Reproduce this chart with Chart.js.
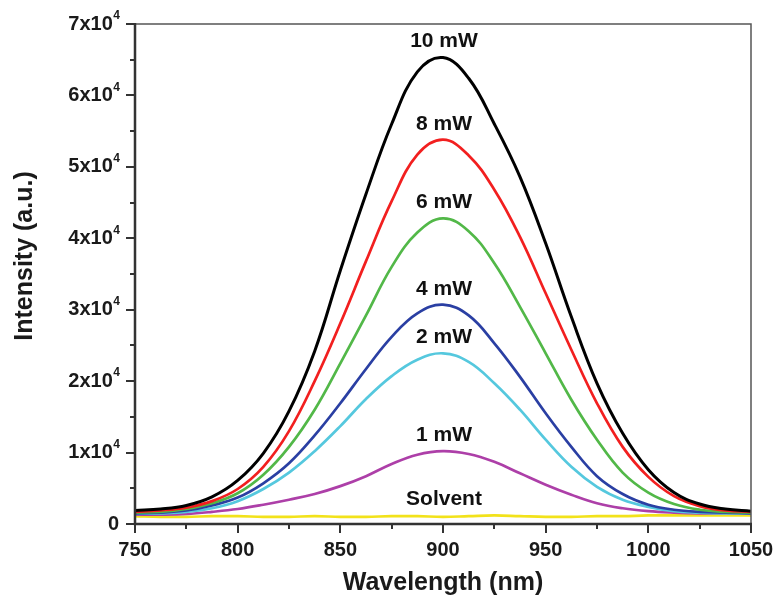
<!DOCTYPE html>
<html>
<head>
<meta charset="utf-8">
<script src="https://cdn.jsdelivr.net/npm/chart.js@4.4.1/dist/chart.umd.min.js"></script>
<style>
html,body{margin:0;padding:0;background:#fff;}
canvas{display:block;}
</style>
</head>
<body>
<canvas id="c" width="775" height="603"></canvas>
<script>
// ---- data (intensity in units of 1e4 a.u.) ----
const wavelengths = [750, 762.5, 775, 787.5, 800, 812.5, 825, 837.5, 850, 862.5, 875, 887.5, 900, 912.5, 925, 937.5, 950, 962.5, 975, 987.5, 1000, 1012.5, 1025, 1037.5, 1050];
const seriesNames = ["10 mW", "8 mW", "6 mW", "4 mW", "2 mW", "1 mW", "Solvent"];
const p10mW = [0.19, 0.21, 0.26, 0.38, 0.61, 0.99, 1.58, 2.42, 3.55, 4.62, 5.60, 6.33, 6.53, 6.24, 5.60, 4.86, 3.93, 2.90, 1.97, 1.27, 0.76, 0.44, 0.28, 0.21, 0.18];
const p8mW  = [0.17, 0.19, 0.23, 0.32, 0.49, 0.80, 1.30, 2.00, 2.81, 3.68, 4.52, 5.17, 5.38, 5.16, 4.68, 4.02, 3.23, 2.44, 1.69, 1.08, 0.66, 0.39, 0.25, 0.19, 0.17];
const p6mW  = [0.16, 0.17, 0.21, 0.29, 0.43, 0.69, 1.08, 1.60, 2.25, 2.92, 3.60, 4.08, 4.28, 4.10, 3.65, 3.04, 2.39, 1.74, 1.18, 0.72, 0.44, 0.28, 0.20, 0.17, 0.16];
const p4mW  = [0.15, 0.16, 0.19, 0.26, 0.37, 0.57, 0.85, 1.24, 1.69, 2.17, 2.62, 2.95, 3.07, 2.92, 2.53, 2.06, 1.55, 1.08, 0.67, 0.42, 0.27, 0.20, 0.17, 0.16, 0.15];
const p2mW  = [0.14, 0.15, 0.17, 0.22, 0.32, 0.49, 0.72, 1.02, 1.37, 1.75, 2.07, 2.30, 2.39, 2.27, 1.97, 1.60, 1.18, 0.80, 0.52, 0.34, 0.24, 0.18, 0.16, 0.15, 0.15];
const p1mW  = [0.13, 0.13, 0.14, 0.17, 0.21, 0.27, 0.34, 0.42, 0.53, 0.67, 0.84, 0.97, 1.02, 0.98, 0.87, 0.71, 0.55, 0.41, 0.29, 0.22, 0.18, 0.16, 0.15, 0.15, 0.15];
const pSolv = [0.11, 0.10, 0.10, 0.11, 0.11, 0.10, 0.10, 0.11, 0.10, 0.10, 0.11, 0.11, 0.10, 0.11, 0.12, 0.11, 0.10, 0.10, 0.11, 0.11, 0.12, 0.12, 0.12, 0.12, 0.12];
const xTicks = [750, 800, 850, 900, 950, 1000, 1050];
const yTickLabels = ["0", "1x10", "2x10", "3x10", "4x10", "5x10", "6x10", "7x10"];
const SCALE = 10000;

const allSeries = [p10mW, p8mW, p6mW, p4mW, p2mW, p1mW, pSolv];
const colors = ["#000000", "#f21f1f", "#52b848", "#2a3fa3", "#55c8de", "#ad3fa8", "#f2e21a"];
const widths = [3, 2.7, 2.7, 2.7, 2.7, 2.7, 2.7];

const datasets = allSeries.map((s, i) => ({
  label: seriesNames[i],
  data: s.map((v, j) => ({x: wavelengths[j], y: v * SCALE})),
  borderColor: colors[i],
  borderWidth: widths[i],
  pointRadius: 0,
  fill: false,
  tension: 0.4
}));

const BOLD = '"Liberation Sans", Arial, sans-serif';

const decor = {
  id: 'decor',
  afterDraw(chart) {
    const ctx = chart.ctx;
    const a = chart.chartArea;
    const xs = chart.scales.x, ys = chart.scales.y;
    ctx.save();
    // frame
    ctx.strokeStyle = '#555';
    ctx.lineWidth = 1.5;
    ctx.beginPath();
    ctx.moveTo(a.left, a.top); ctx.lineTo(a.right, a.top); ctx.lineTo(a.right, a.bottom);
    ctx.stroke();
    ctx.strokeStyle = '#333';
    ctx.lineWidth = 2.5;
    ctx.beginPath();
    ctx.moveTo(a.left, a.top - 1); ctx.lineTo(a.left, a.bottom); ctx.lineTo(a.right + 1, a.bottom);
    ctx.stroke();
    // ticks
    ctx.lineWidth = 2;
    ctx.beginPath();
    for (let v = 750; v <= 1050; v += 25) {
      const px = Math.round(xs.getPixelForValue(v));
      const len = (v % 50 === 0) ? 9 : 5;
      ctx.moveTo(px, a.bottom); ctx.lineTo(px, a.bottom + len);
    }
    for (let v = 0; v <= 70000; v += 5000) {
      const py = Math.round(ys.getPixelForValue(v));
      const len = (v % 10000 === 0) ? 9 : 5;
      ctx.moveTo(a.left, py); ctx.lineTo(a.left - len, py);
    }
    ctx.stroke();
    // x tick labels
    ctx.fillStyle = '#1a1a1a';
    ctx.font = 'bold 20px ' + BOLD;
    ctx.textAlign = 'center';
    ctx.textBaseline = 'middle';
    xTicks.forEach(v => {
      ctx.fillText(String(v), xs.getPixelForValue(v), a.bottom + 26);
    });
    // y tick labels with superscript
    yTickLabels.forEach((t, i) => {
      const py = ys.getPixelForValue(i * SCALE);
      ctx.textBaseline = 'middle';
      if (i === 0) {
        ctx.font = 'bold 20px ' + BOLD;
        ctx.textAlign = 'right';
        ctx.fillText(t, a.left - 16, py);
      } else {
        ctx.font = 'bold 12px ' + BOLD;
        ctx.textAlign = 'right';
        const right = a.left - 15;
        ctx.fillText('4', right, py - 8);
        const sw = ctx.measureText('4').width;
        ctx.font = 'bold 20px ' + BOLD;
        ctx.fillText(t, right - sw - 0.5, py);
      }
    });
    // axis titles
    ctx.font = 'bold 25px ' + BOLD;
    ctx.textAlign = 'center';
    ctx.fillText('Wavelength (nm)', (a.left + a.right) / 2, 583);
    ctx.save();
    ctx.translate(25, 256);
    ctx.rotate(-Math.PI / 2);
    ctx.fillText('Intensity (a.u.)', 0, 0);
    ctx.restore();
    // curve labels
    ctx.font = 'bold 21px ' + BOLD;
    ctx.fillStyle = '#111';
    allSeries.forEach((s, i) => {
      const peak = Math.max(...s) * SCALE;
      ctx.fillText(seriesNames[i], xs.getPixelForValue(900) + 1, ys.getPixelForValue(peak) - 16);
    });
    ctx.restore();
  }
};

new Chart(document.getElementById('c'), {
  type: 'line',
  data: {datasets},
  options: {
    responsive: false,
    animation: false,
    devicePixelRatio: 1,
    layout: {padding: {top: 24, right: 24, left: 0, bottom: 0}},
    plugins: {legend: {display: false}, tooltip: {enabled: false}},
    scales: {
      x: {
        type: 'linear', min: 750, max: 1050,
        grid: {display: false, drawTicks: false},
        border: {display: false},
        ticks: {display: false, stepSize: 50},
        afterFit(s) { s.height = 79; }
      },
      y: {
        type: 'linear', min: 0, max: 70000,
        grid: {display: false, drawTicks: false},
        border: {display: false},
        ticks: {display: false, stepSize: 10000},
        afterFit(s) { s.width = 135; }
      }
    }
  },
  plugins: [decor]
});
</script>
</body>
</html>
